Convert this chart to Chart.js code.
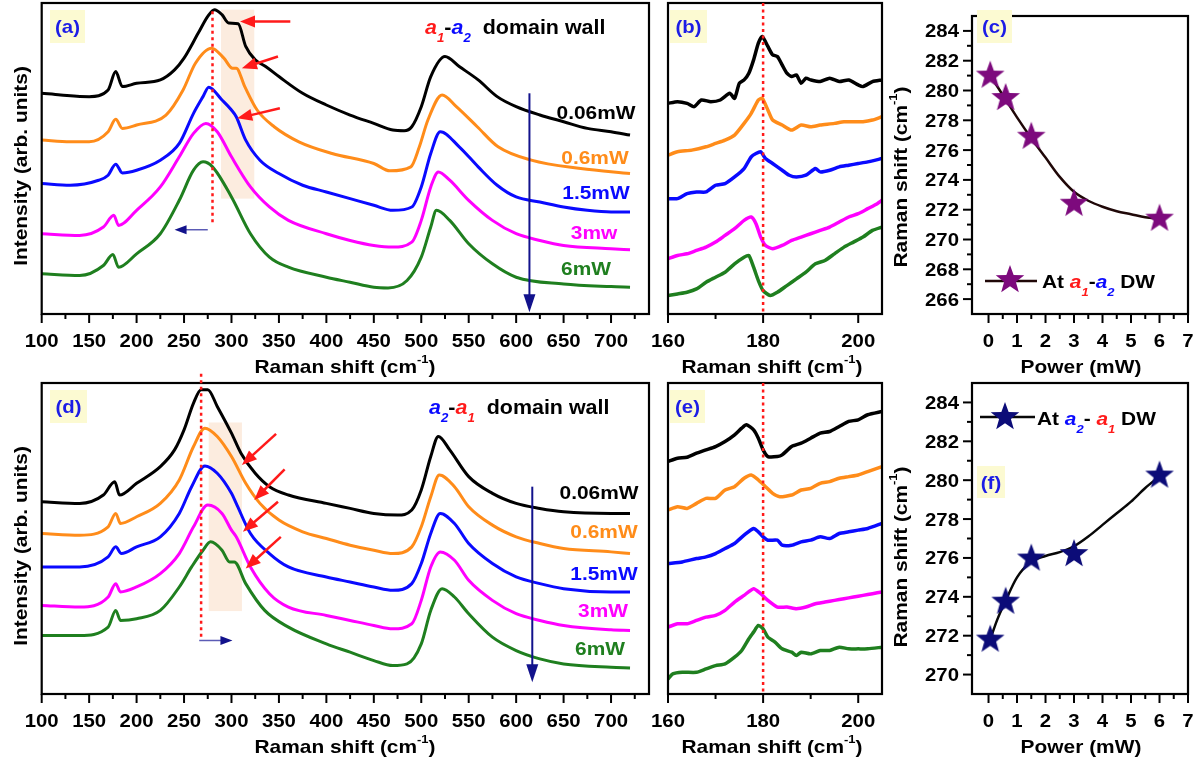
<!DOCTYPE html>
<html>
<head>
<meta charset="utf-8">
<script src="https://cdn.jsdelivr.net/npm/chart.js@4.4.0/dist/chart.umd.min.js"></script>
<style>
body{margin:0;background:#fff;}
#wrap{position:relative;width:1204px;height:764px;background:#fff;}
canvas{position:absolute;left:0;top:0;}
</style>
</head>
<body>
<div id="wrap">
<canvas id="ca" width="1204" height="764"></canvas>
<canvas id="cb" width="1204" height="764"></canvas>
<canvas id="cc" width="1204" height="764"></canvas>
<canvas id="cd" width="1204" height="764"></canvas>
<canvas id="ce" width="1204" height="764"></canvas>
<canvas id="cf" width="1204" height="764"></canvas>
</div>
<script>
// ---- data ----
var powers = [0.06, 0.6, 1.5, 3, 6];
var powerLabelsA = ['0.06mW', '0.6mW', '1.5mW', '3mw', '6mW'];
var powerLabelsD = ['0.06mW', '0.6mW', '1.5mW', '3mW', '6mW'];
var shiftA1A2 = [281.0, 279.5, 276.9, 272.4, 271.4];
var shiftA2A1 = [271.8, 273.75, 275.97, 276.2, 280.24];
var fitXc = [0.06, 0.5, 1, 1.5, 2, 2.5, 3, 3.5, 4, 4.5, 5, 5.5, 6];
var fitYc = [281.0, 279.7, 278.2, 276.8, 275.5, 274.2, 273.2, 272.6, 272.2, 271.9, 271.7, 271.5, 271.4];
var fitXf = [0.06, 0.3, 0.6, 1, 1.5, 2, 2.5, 3, 3.5, 4, 4.5, 5, 5.5, 6];
var fitYf = [271.8, 272.8, 273.8, 275.0, 275.8, 276.1, 276.3, 276.6, 277.1, 277.7, 278.3, 278.9, 279.6, 280.2];

var xTicksA = [100, 150, 200, 250, 300, 350, 400, 450, 500, 550, 600, 650, 700];
var xTicksB = [160, 180, 200];
var xTicksC = [0, 1, 2, 3, 4, 5, 6, 7];
var yTicksC = [266, 268, 270, 272, 274, 276, 278, 280, 282, 284];
var yTicksF = [270, 272, 274, 276, 278, 280, 282, 284];

// panel (a): a1-a2 wall, full spectra (arb. units)
var a006 = [[100,660],[120,655],[150,650],[170,670],[178,725],[185,680],[200,690],[225,700],[240,730],[250,765],[265,840],[275,890],[282,910],[290,895],[297,870],[307,868],[315,800],[325,760],[336,740],[350,710],[375,660],[400,625],[425,595],[450,570],[470,550],[482,548],[490,560],[500,620],[510,710],[525,770],[540,740],[560,700],[580,650],[600,620],[625,595],[650,575],[675,555],[700,545],[720,535]];
var a06 = [[100,520],[130,515],[150,515],[170,545],[178,582],[185,555],[200,565],[231,595],[249,670],[262,750],[279,795],[292,765],[301,735],[305,735],[314,680],[327,610],[345,560],[371,515],[406,480],[450,450],[467,428],[489,440],[498,500],[507,580],[522,655],[537,620],[559,560],[581,500],[616,460],[668,435],[720,420]];
var a15 = [[100,390],[130,385],[160,400],[170,415],[178,448],[185,422],[200,430],[225,460],[245,510],[260,600],[270,650],[276,678],[290,640],[300,610],[305,590],[315,520],[330,460],[350,420],[375,385],[400,365],[425,345],[450,325],[470,310],[490,320],[500,380],[510,480],[520,545],[540,500],[560,440],[580,385],[600,350],[625,335],[650,320],[675,310],[700,305],[720,305]];
var a3 = [[100,240],[140,235],[165,260],[176,295],[181,265],[200,310],[225,380],[245,470],[260,540],[273,570],[285,545],[300,470],[320,380],[340,320],[360,280],[400,240],[425,220],[450,205],[470,200],[490,215],[500,280],[510,380],[518,425],[530,400],[550,340],[575,280],[600,240],[625,220],[650,205],[700,195],[720,192]];
var a6 = [[100,120],[140,115],[165,145],[175,178],[181,140],[200,180],[225,240],[245,340],[260,430],[270,455],[280,440],[300,350],[320,240],[340,170],[360,140],[400,110],[425,95],[450,80],[465,78],[485,100],[500,170],[510,260],[516,310],[530,280],[550,210],[575,150],[600,110],[650,90],[700,82],[720,80]];

// panel (d): a2-a1 wall
var d006 = [[100,575],[140,570],[165,595],[177,635],[182,595],[200,630],[225,680],[240,730],[250,790],[260,870],[268,910],[275,910],[285,860],[300,780],[310,720],[325,660],[340,620],[360,595],[400,570],[425,555],[450,540],[475,535],[490,550],[500,610],[510,710],[518,770],[530,730],[550,650],[575,600],[600,570],[625,555],[650,545],[700,540],[720,540]];
var d06 = [[100,480],[140,475],[170,500],[178,540],[183,510],[200,530],[225,570],[245,640],[260,740],[272,795],[285,770],[300,710],[315,630],[330,570],[350,520],[375,485],[400,465],[425,445],[450,430],[470,420],[490,440],[500,500],[510,590],[519,655],[535,620],[550,560],[575,505],[600,470],[625,450],[650,435],[700,425],[720,420]];
var d15 = [[100,380],[140,380],[170,410],[178,440],[184,420],[200,440],[225,470],[245,540],[258,620],[272,682],[285,660],[300,600],[305,570],[320,480],[340,420],[360,380],[400,350],[425,335],[450,320],[470,310],[490,330],[500,390],[510,480],[520,540],[535,510],[550,450],[575,390],[600,350],[625,330],[650,315],[700,305],[720,305]];
var d3 = [[100,265],[140,260],[170,290],[178,330],[183,305],[200,320],[225,360],[245,420],[260,500],[275,565],[290,540],[300,490],[305,470],[320,380],[340,300],[360,260],[400,235],[425,220],[450,205],[470,195],[490,210],[500,280],[510,380],[520,425],[535,400],[550,340],[575,280],[600,240],[625,220],[650,205],[700,192],[720,190]];
var d6 = [[100,175],[140,175],[170,200],[178,250],[183,220],[200,225],[225,250],[245,320],[258,380],[270,430],[278,455],[290,430],[298,395],[303,395],[315,330],[335,250],[360,200],[400,150],[425,125],[450,100],[470,85],[485,90],[500,150],[510,250],[522,315],[535,290],[550,240],[575,170],[600,130],[625,105],[650,90],[700,80],[720,78]];

// panel (b): zoom on the 180 mode, a1-a2
var b006 = [[160,630],[162,635],[164,630],[165.5,620],[167,640],[169,635],[171,640],[173,660],[174,645],[175,690],[176,700],[177,720],[178,760],[179,810],[179.8,830],[181,800],[182,775],[183,770],[184,745],[185,720],[186,710],[187,715],[188,690],[189,705],[190,700],[192,695],[194,705],[196,695],[198,700],[200,685],[201,680],[203,695],[205,700]];
var b06 = [[160,475],[162,485],[165,490],[168,500],[170,510],[172,520],[174,535],[176,570],[177.5,600],[179,640],[179.8,645],[181,610],[182,580],[184,565],[186,550],[188,565],[190,560],[192,565],[195,570],[197,575],[199,575],[201,575],[203,580],[205,590]];
var b15 = [[160,345],[162,345],[164,360],[166,365],[168,365],[170,385],[172,390],[174,410],[176,435],[177.5,470],[178.5,480],[179.5,485],[180.5,465],[182,450],[184,430],[185.5,415],[187,410],[189,415],[191,435],[192,425],[194,430],[196,440],[198,445],[200,450],[202,455],[205,465]];
var b3 = [[160,165],[162,175],[164,180],[166,190],[168,200],[170,215],[172,235],[174,255],[176,280],[177.5,290],[178.5,270],[179.5,230],[180.5,205],[182,195],[184,205],[186,220],[188,230],[190,240],[192,250],[194,260],[196,275],[198,290],[200,300],[202,315],[204,330],[205,340]];
var b6 = [[160,55],[162,60],[164,65],[166,75],[168,95],[170,110],[172,125],[174,150],[176,170],[177,175],[178,140],[179,100],[180,70],[181.5,55],[183,65],[185,85],[187,105],[189,125],[191,150],[193,160],[195,180],[197,200],[199,215],[201,230],[203,250],[205,260]];

// panel (e): zoom on the 180 mode, a2-a1
var e006 = [[160,695],[162,705],[164,708],[166,720],[168,730],[170,740],[172,755],[174,775],[175.5,795],[176.5,805],[178,790],[179,765],[180,730],[181,710],[183,710],[184,715],[186,740],[188,750],[190,765],[192,780],[194,785],[196,800],[198,815],[200,820],[202,835],[205,845]];
var e06 = [[160,550],[162,560],[164,555],[166,570],[168,585],[170,585],[172,610],[174,620],[176,645],[177.5,655],[179,640],[180.5,620],[182,600],[183.5,590],[186,595],[188,610],[190,615],[192,630],[194,635],[196,645],[198,650],[200,655],[202,665],[205,680]];
var e15 = [[160,390],[163,395],[166,405],[168,410],[170,420],[172,435],[174,450],[176,475],[178,495],[179,485],[180,470],[181,460],[183,460],[184,445],[186,445],[188,455],[190,460],[192,470],[194,465],[196,480],[198,485],[200,490],[202,495],[205,510]];
var e3 = [[160,200],[162,210],[164,210],[166,220],[168,230],[170,235],[172,250],[174,275],[176,295],[178,315],[179.5,300],[181,280],[183,260],[185,260],[187,255],[189,260],[191,270],[193,275],[195,280],[197,285],[199,290],[201,295],[203,300],[205,305]];
var e6 = [[160,45],[161,60],[163,65],[166,65],[168,75],[170,85],[172,90],[174,110],[175.5,130],[177,165],[178,185],[179,205],[180,195],[181,170],[182.5,155],[184,135],[186,125],[187,115],[188,125],[190,120],[192,130],[194,130],[196,140],[198,135],[200,135],[202,135],[205,140]];

var colors = ['#000000', '#ff8c1a', '#0a0aff', '#ff00ff', '#1f7f1f'];
var FONT = '"Liberation Sans", Arial, sans-serif';
var RED = '#ff1a1a', NAVY = '#12128c', LABEL_BLUE = '#1c1ce6';

// ---- drawing helpers ----
function rich(ctx, parts, x, y, size, align, sx) {
    sx = sx || 1.1;
    if (typeof parts === 'string') parts = [{t: parts}];
    var widths = [], total = 0;
    ctx.save();
    parts.forEach(function(p) {
        var s = (p.sub || p.sup) ? size * 0.62 : size;
        ctx.font = (p.i ? 'italic ' : '') + 'bold ' + s + 'px ' + FONT;
        var w = ctx.measureText(p.t).width * sx;
        widths.push(w); total += w;
    });
    var x0 = x;
    if (align === 'center') x0 = x - total / 2;
    if (align === 'right') x0 = x - total;
    parts.forEach(function(p, k) {
        var s = (p.sub || p.sup) ? size * 0.62 : size;
        ctx.font = (p.i ? 'italic ' : '') + 'bold ' + s + 'px ' + FONT;
        ctx.fillStyle = p.c || '#000';
        var dy = p.sub ? size * 0.42 : (p.sup ? -size * 0.55 : 0);
        ctx.save();
        ctx.translate(x0, y + dy);
        ctx.scale(sx, 1);
        ctx.fillText(p.t, 0, 0);
        ctx.restore();
        x0 += widths[k];
    });
    ctx.restore();
}

function vrich(ctx, parts, bx, cy, size) {
    ctx.save();
    ctx.translate(bx, cy);
    ctx.rotate(-Math.PI / 2);
    rich(ctx, parts, 0, 0, size, 'center');
    ctx.restore();
}

function arrow(ctx, x1, y1, x2, y2, col, lw, hl, hw, lineCol) {
    var a = Math.atan2(y2 - y1, x2 - x1);
    ctx.save();
    ctx.strokeStyle = lineCol || col;
    ctx.lineWidth = lw;
    ctx.beginPath();
    ctx.moveTo(x1, y1);
    ctx.lineTo(x2 - Math.cos(a) * hl * 0.8, y2 - Math.sin(a) * hl * 0.8);
    ctx.stroke();
    ctx.fillStyle = col;
    ctx.beginPath();
    ctx.moveTo(x2, y2);
    ctx.lineTo(x2 - hl * Math.cos(a) + hw / 2 * Math.sin(a), y2 - hl * Math.sin(a) - hw / 2 * Math.cos(a));
    ctx.lineTo(x2 - hl * Math.cos(a) - hw / 2 * Math.sin(a), y2 - hl * Math.sin(a) + hw / 2 * Math.cos(a));
    ctx.closePath();
    ctx.fill();
    ctx.restore();
}

function px(ch, v) { return ch.scales.x.getPixelForValue(v); }
function py(ch, v) { return ch.scales.y.getPixelForValue(v); }

function frame(ch) {
    var ctx = ch.ctx, ca = ch.chartArea;
    ctx.save();
    ctx.strokeStyle = '#000';
    ctx.lineWidth = 2.2;
    ctx.strokeRect(ca.left, ca.top, ca.right - ca.left, ca.bottom - ca.top);
    ctx.restore();
}

function ticksX(ch, majors, minorStep) {
    var ctx = ch.ctx, ca = ch.chartArea, sc = ch.scales.x;
    ctx.save();
    ctx.strokeStyle = '#000';
    ctx.lineWidth = 2;
    for (var v = majors[0] + minorStep; v < sc.max; v += minorStep) {
        if (majors.indexOf(+v.toFixed(3)) >= 0) continue;
        var p = sc.getPixelForValue(v);
        ctx.beginPath(); ctx.moveTo(p, ca.bottom); ctx.lineTo(p, ca.bottom + 5); ctx.stroke();
    }
    majors.forEach(function(m) {
        var p = sc.getPixelForValue(m);
        ctx.beginPath(); ctx.moveTo(p, ca.bottom); ctx.lineTo(p, ca.bottom + 9); ctx.stroke();
        rich(ctx, String(m), p, ca.bottom + 33, 18.5, 'center');
    });
    ctx.restore();
}

function ticksY(ch, majors, minorStep) {
    var ctx = ch.ctx, ca = ch.chartArea, sc = ch.scales.y;
    ctx.save();
    ctx.strokeStyle = '#000';
    ctx.lineWidth = 2;
    for (var v = majors[0] - minorStep; v < sc.max; v += minorStep) {
        if (v <= sc.min || majors.indexOf(v) >= 0) continue;
        var p = sc.getPixelForValue(v);
        ctx.beginPath(); ctx.moveTo(ca.left, p); ctx.lineTo(ca.left - 5, p); ctx.stroke();
    }
    majors.forEach(function(m) {
        var p = sc.getPixelForValue(m);
        ctx.beginPath(); ctx.moveTo(ca.left, p); ctx.lineTo(ca.left - 9, p); ctx.stroke();
        rich(ctx, String(m), ca.left - 13, p + 6.5, 18.5, 'right');
    });
    ctx.restore();
}

function panelLabel(ctx, s, x, y, w, h) {
    ctx.save();
    ctx.fillStyle = '#fcfad2';
    ctx.fillRect(x, y, w, h);
    ctx.restore();
    rich(ctx, [{t: s, c: LABEL_BLUE}], x + w / 2, y + h / 2 + 6.5, 18.5, 'center');
}

function dotted(ch, x, y1, y2) {
    var ctx = ch.ctx;
    ctx.save();
    ctx.strokeStyle = RED;
    ctx.lineWidth = 2.5;
    ctx.setLineDash([3, 3.5]);
    ctx.beginPath();
    ctx.moveTo(px(ch, x), py(ch, y1));
    ctx.lineTo(px(ch, x), py(ch, y2));
    ctx.stroke();
    ctx.restore();
}

function shade(ch, x1, x2, y1, y2) {
    var ctx = ch.ctx;
    ctx.save();
    ctx.fillStyle = 'rgba(248,205,170,0.38)';
    ctx.fillRect(px(ch, x1), py(ch, y1), px(ch, x2) - px(ch, x1), py(ch, y2) - py(ch, y1));
    ctx.restore();
}

function darrow(ch, x1, y1, x2, y2, col, lw, hl, hw, lineCol) {
    arrow(ch.ctx, px(ch, x1), py(ch, y1), px(ch, x2), py(ch, y2), col, lw, hl, hw, lineCol);
}

var ramanTitle = [{t: 'Raman shift (cm'}, {t: '-1', sup: true}, {t: ')'}];

function starImg(col) {
    var c = document.createElement('canvas');
    c.width = 34; c.height = 34;
    var g = c.getContext('2d');
    g.beginPath();
    for (var k = 0; k < 10; k++) {
        var r = k % 2 ? 6.2 : 15;
        var a = -Math.PI / 2 + k * Math.PI / 5;
        g.lineTo(17 + r * Math.cos(a), 17 + r * Math.sin(a));
    }
    g.closePath();
    g.fillStyle = col;
    g.fill();
    return c;
}
var starC = starImg('#7d0a7d');
var starF = starImg('#0c0c78');

// ---- plugin calling per-panel decorations ----
var decos = {};
Chart.register({
    id: 'deco',
    beforeDatasetsDraw: function(chart) {
        var d = decos[chart.canvas.id];
        if (d && d.before) d.before(chart, chart.ctx);
    },
    afterDraw: function(chart) {
        var d = decos[chart.canvas.id];
        if (d && d.after) d.after(chart, chart.ctx);
    }
});

function spec(data, k, w) {
    return {data: data, borderColor: colors[k], borderWidth: w || 3, pointRadius: 0,
            fill: false, cubicInterpolationMode: 'monotone', borderJoinStyle: 'round'};
}
function specRough(data, k) {
    return {data: data, borderColor: colors[k], borderWidth: 3.5, pointRadius: 0,
            fill: false, tension: 0.2, borderJoinStyle: 'round'};
}
function pairs(xs, ys) {
    return xs.map(function(x, i) { return [x, ys[i]]; });
}

function makeChart(id, box, xr, yr, datasets, deco) {
    decos[id] = deco;
    return new Chart(document.getElementById(id), {
        type: 'line',
        data: {datasets: datasets},
        options: {
            responsive: false,
            animation: false,
            devicePixelRatio: 1,
            events: [],
            layout: {padding: {left: box[0], top: box[1], right: 1204 - box[2], bottom: 764 - box[3]}},
            scales: {
                x: {type: 'linear', min: xr[0], max: xr[1], display: false},
                y: {type: 'linear', min: yr[0], max: yr[1], display: false}
            },
            plugins: {legend: {display: false}, tooltip: {enabled: false}}
        }
    });
}

// ---- (a) ----
makeChart('ca', [41.7, 3, 649, 314], [100, 740], [0, 930],
    [spec(a006, 0), spec(a06, 1), spec(a15, 2), spec(a3, 3), spec(a6, 4)], {
    before: function(ch, ctx) { shade(ch, 289, 324, 910, 345); },
    after: function(ch, ctx) {
        frame(ch);
        ticksX(ch, xTicksA, 25);
        dotted(ch, 280, 905, 270);
        darrow(ch, 362, 875, 309, 875, RED, 2.5, 15, 12);
        darrow(ch, 349, 770, 311, 735, RED, 2.5, 15, 12);
        darrow(ch, 351, 615, 306, 585, RED, 2.5, 15, 12);
        darrow(ch, 614, 660, 614, 5, NAVY, 2, 18, 12);
        darrow(ch, 275, 252, 240, 252, NAVY, 1.5, 12, 9, '#5b5bb5');
        var ys = [119, 164, 199, 239, 275], xs = [596, 595, 596, 594, 586];
        powerLabelsA.forEach(function(s, i) {
            rich(ctx, [{t: s, c: colors[i]}], xs[i], ys[i], 19, 'center');
        });
        rich(ctx, [{t: 'a', c: RED, i: true}, {t: '1', c: RED, i: true, sub: true}, {t: '-'},
                   {t: 'a', c: '#0a0aff', i: true}, {t: '2', c: '#0a0aff', i: true, sub: true},
                   {t: '  domain wall'}], 425, 34, 19.5, 'left');
        panelLabel(ctx, '(a)', 50, 10, 35, 33);
        vrich(ctx, 'Intensity (arb. units)', 27, 166, 19);
        rich(ctx, ramanTitle, 345, 373, 19, 'center');
    }
});

// ---- (b) ----
makeChart('cb', [668, 3, 882, 314], [160, 205], [0, 930],
    [specRough(b006, 0), specRough(b06, 1), specRough(b15, 2), specRough(b3, 3), specRough(b6, 4)], {
    after: function(ch, ctx) {
        frame(ch);
        ticksX(ch, xTicksB, 10);
        dotted(ch, 180, 930, 0);
        panelLabel(ctx, '(b)', 670, 10, 37, 33);
        rich(ctx, ramanTitle, 772, 373, 19, 'center');
    }
});

// ---- (c) ----
makeChart('cc', [972, 3, 1188, 314], [-0.58, 7], [265, 285], [
    {data: pairs(powers, shiftA1A2), showLine: false, pointStyle: starC, pointRadius: 15},
    {data: pairs(fitXc, fitYc), borderColor: '#200808', borderWidth: 2.5, pointRadius: 0, cubicInterpolationMode: 'monotone'}
], {
    after: function(ch, ctx) {
        frame(ch);
        ticksX(ch, xTicksC, 0.5);
        ticksY(ch, yTicksC, 1);
        panelLabel(ctx, '(c)', 977, 10, 35, 33);
        ctx.save();
        ctx.strokeStyle = '#200808'; ctx.lineWidth = 2.5;
        ctx.beginPath(); ctx.moveTo(985, 281); ctx.lineTo(1037, 281); ctx.stroke();
        ctx.drawImage(starC, 1010 - 17, 280 - 17);
        ctx.restore();
        rich(ctx, [{t: 'At '}, {t: 'a', c: RED, i: true}, {t: '1', c: RED, i: true, sub: true}, {t: '-'},
                   {t: 'a', c: '#0a0aff', i: true}, {t: '2', c: '#0a0aff', i: true, sub: true},
                   {t: ' DW'}], 1042, 288, 19, 'left');
        vrich(ctx, ramanTitle, 907, 177, 19);
        rich(ctx, 'Power (mW)', 1081, 373, 19, 'center');
    }
});

// ---- (d) ----
makeChart('cd', [41.7, 383, 649, 694], [100, 740], [0, 930],
    [spec(d006, 0), spec(d06, 1), spec(d15, 2), spec(d3, 3), spec(d6, 4)], {
    before: function(ch, ctx) { shade(ch, 276, 311, 812, 248); },
    after: function(ch, ctx) {
        frame(ch);
        ticksX(ch, xTicksA, 25);
        dotted(ch, 268, 958, 160);
        darrow(ch, 347, 778, 311, 685, RED, 2.5, 15, 12);
        darrow(ch, 356, 672, 324, 580, RED, 2.5, 15, 12);
        darrow(ch, 349, 575, 312, 485, RED, 2.5, 15, 12);
        darrow(ch, 352, 470, 315, 375, RED, 2.5, 15, 12);
        darrow(ch, 617, 620, 617, 35, NAVY, 2, 18, 12);
        darrow(ch, 266, 160, 301, 160, NAVY, 1.5, 12, 9, '#5b5bb5');
        var ys = [499, 538, 580, 617, 655], xs = [599, 604, 604, 603, 600];
        powerLabelsD.forEach(function(s, i) {
            rich(ctx, [{t: s, c: colors[i]}], xs[i], ys[i], 19, 'center');
        });
        rich(ctx, [{t: 'a', c: '#0a0aff', i: true}, {t: '2', c: '#0a0aff', i: true, sub: true}, {t: '-'},
                   {t: 'a', c: RED, i: true}, {t: '1', c: RED, i: true, sub: true},
                   {t: '  domain wall'}], 429, 414, 19.5, 'left');
        panelLabel(ctx, '(d)', 50, 390, 37, 33);
        vrich(ctx, 'Intensity (arb. units)', 27, 546, 19);
        rich(ctx, ramanTitle, 345, 753, 19, 'center');
    }
});

// ---- (e) ----
makeChart('ce', [668, 383, 882, 694], [160, 205], [0, 930],
    [specRough(e006, 0), specRough(e06, 1), specRough(e15, 2), specRough(e3, 3), specRough(e6, 4)], {
    after: function(ch, ctx) {
        frame(ch);
        ticksX(ch, xTicksB, 10);
        dotted(ch, 180, 930, 0);
        panelLabel(ctx, '(e)', 670, 390, 35, 33);
        rich(ctx, ramanTitle, 772, 753, 19, 'center');
    }
});

// ---- (f) ----
makeChart('cf', [972, 383, 1188, 694], [-0.58, 7], [269, 285], [
    {data: pairs(powers, shiftA2A1), showLine: false, pointStyle: starF, pointRadius: 15},
    {data: pairs(fitXf, fitYf), borderColor: '#080808', borderWidth: 2.5, pointRadius: 0, cubicInterpolationMode: 'monotone'}
], {
    after: function(ch, ctx) {
        frame(ch);
        ticksX(ch, xTicksC, 0.5);
        ticksY(ch, yTicksF, 1);
        panelLabel(ctx, '(f)', 977, 466, 28, 32);
        ctx.save();
        ctx.strokeStyle = '#080808'; ctx.lineWidth = 2.5;
        ctx.beginPath(); ctx.moveTo(980, 417); ctx.lineTo(1035, 417); ctx.stroke();
        ctx.drawImage(starF, 1005 - 17, 417 - 17);
        ctx.restore();
        rich(ctx, [{t: 'At '}, {t: 'a', c: '#0a0aff', i: true}, {t: '2', c: '#0a0aff', i: true, sub: true}, {t: '- '},
                   {t: 'a', c: RED, i: true}, {t: '1', c: RED, i: true, sub: true},
                   {t: ' DW'}], 1037, 425, 19, 'left');
        vrich(ctx, ramanTitle, 907, 557, 19);
        rich(ctx, 'Power (mW)', 1081, 753, 19, 'center');
    }
});
</script>
</body>
</html>
